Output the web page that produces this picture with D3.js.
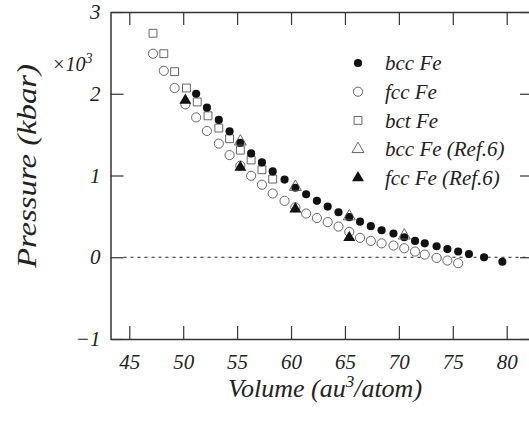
<!DOCTYPE html>
<html><head><meta charset="utf-8">
<script src="https://cdn.jsdelivr.net/npm/d3@7"></script>
<style>body{margin:0;background:#fff}svg{display:block}</style></head><body>
<svg id="c" width="529" height="421"></svg>
<script>
// ---- data ----
const bccV=[51.2,52.2,53.3,54.3,55.3,56.3,57.3,58.3,59.4,60.4,61.4,62.4,63.4,64.4,65.4,66.4,67.4,68.4,69.5,70.5,71.5,72.4,73.5,74.5,75.5,76.5,77.9,79.6];
const bccP=[2.00,1.83,1.68,1.54,1.40,1.27,1.16,1.05,0.95,0.85,0.77,0.69,0.62,0.55,0.49,0.435,0.38,0.33,0.29,0.245,0.20,0.17,0.135,0.10,0.07,0.04,0.00,-0.055];
const fccV=[47.2,48.2,49.2,50.2,51.2,52.2,53.3,54.3,55.3,56.3,57.3,58.3,59.4,60.4,61.4,62.4,63.4,64.4,65.4,66.4,67.4,68.4,69.5,70.5,71.5,72.4,73.5,74.5,75.5];
const fccP=[2.49,2.28,2.07,1.87,1.71,1.545,1.39,1.25,1.12,0.996,0.887,0.78,0.69,0.61,0.535,0.48,0.43,0.375,0.31,0.237,0.20,0.17,0.143,0.11,0.07,0.033,-0.008,-0.04,-0.073];
const bctV=[47.2,48.2,49.2,50.3,51.3,52.3,53.3,54.3,55.3,56.3,57.3,58.3];
const bctP=[2.74,2.49,2.27,2.07,1.90,1.73,1.58,1.45,1.31,1.19,1.07,0.956];
const bccRefV=[55.3,60.4,65.4,70.5];
const bccRefP=[1.415,0.86,0.50,0.265];
const fccRefV=[50.2,55.3,60.4,65.4];
const fccRefP=[1.92,1.10,0.59,0.24];
const seriesNames=["bcc Fe","fcc Fe","bct Fe","bcc Fe (Ref.6)","fcc Fe (Ref.6)"];
const xTicks=[45,50,55,60,65,70,75,80];
const yTicks=[-1,0,1,2,3];
const yTickLabels=["\u22121","0","1","2","3"];

// ---- chart ----
const svg=d3.select("#c");
const L=110.5,R=533,T=12,B=339;
const x=d3.scaleLinear().domain([43.257,82.44]).range([L,R]);
const y=d3.scaleLinear().domain([-1,3]).range([B,T]);
const axCol="#333";
const FF='"Liberation Serif"';
function tx(sel,size){return sel.style("font-family",FF).style("font-style","italic").style("font-size",size+"px").attr("fill","#222");}

function styleAxis(g){
  g.attr("font-family",null).attr("font-size",null);
  g.selectAll("path.domain").attr("stroke",axCol).attr("stroke-width",1.5);
  g.selectAll(".tick line").attr("stroke",axCol).attr("stroke-width",1.2);
  tx(g.selectAll(".tick text"),21);
}
// zero line
svg.append("line").attr("x1",L+13).attr("x2",R).attr("y1",y(0)).attr("y2",y(0))
  .attr("stroke","#222").attr("stroke-width",1).attr("stroke-dasharray","3,4");

svg.append("g").attr("transform",`translate(0,${B})`)
  .call(d3.axisBottom(x).tickValues(xTicks).tickSizeInner(-13).tickSizeOuter(0).tickPadding(15).tickFormat(d3.format("d")))
  .call(styleAxis);
svg.append("g").attr("transform",`translate(0,${T})`)
  .call(d3.axisTop(x).tickValues(xTicks).tickSizeInner(-13).tickSizeOuter(0).tickFormat(""))
  .call(styleAxis);
svg.append("g").attr("transform",`translate(${L},0)`)
  .call(d3.axisLeft(y).tickValues(yTicks).tickSizeInner(-13).tickSizeOuter(0).tickPadding(10).tickFormat((d,i)=>yTickLabels[i]))
  .call(styleAxis);
svg.append("g").attr("transform",`translate(${R},0)`)
  .call(d3.axisRight(y).tickValues(yTicks).tickSizeInner(-13).tickSizeOuter(0).tickFormat(""))
  .call(styleAxis);

// markers
const styles=[
  {type:d3.symbolCircle,size:52,fill:"#111",stroke:"none"},
  {type:d3.symbolCircle,size:66,fill:"#fff",stroke:"#555"},
  {type:d3.symbolSquare,size:62,fill:"#fff",stroke:"#555"},
  {type:d3.symbolTriangle,size:62,fill:"none",stroke:"#555"},
  {type:d3.symbolTriangle,size:62,fill:"#111",stroke:"none"}
];
const data=[
  bccV.map((v,i)=>[v,bccP[i]]),
  fccV.map((v,i)=>[v,fccP[i]]),
  bctV.map((v,i)=>[v,bctP[i]]),
  bccRefV.map((v,i)=>[v,bccRefP[i]]),
  fccRefV.map((v,i)=>[v,fccRefP[i]])
];
const order=[1,2,0,3,4];
order.forEach(k=>{
  const s=styles[k];
  svg.append("g").selectAll("path").data(data[k]).join("path")
    .attr("transform",d=>`translate(${x(d[0])},${y(d[1])})`)
    .attr("d",d3.symbol().type(s.type).size(s.size))
    .attr("fill",s.fill).attr("stroke",s.stroke).attr("stroke-width",0.9);
});

// legend
const lg=svg.append("g");
seriesNames.forEach((n,i)=>{
  const s=styles[i], yy=63+i*28.7;
  lg.append("path").attr("transform",`translate(358,${yy})`)
    .attr("d",d3.symbol().type(s.type).size(s.size))
    .attr("fill",s.fill).attr("stroke",s.stroke).attr("stroke-width",0.9);
  tx(lg.append("text").attr("x",385).attr("y",yy).attr("dy","0.35em"),21).text(n);
});

// axis titles
tx(svg.append("text").attr("x",325).attr("y",397).attr("text-anchor","middle"),26)
  .html('Volume (au<tspan dy="-10" style="font-size:17px">3</tspan><tspan dy="10">/atom)</tspan>');
tx(svg.append("text").attr("transform","translate(36,166) rotate(-90)").attr("text-anchor","middle"),28)
  .attr("textLength",204).attr("lengthAdjust","spacingAndGlyphs").text("Pressure (kbar)");
tx(svg.append("text").attr("x",52).attr("y",71),20)
  .html('\u00d710<tspan dy="-8" style="font-size:14px">3</tspan>');
</script></body></html>
